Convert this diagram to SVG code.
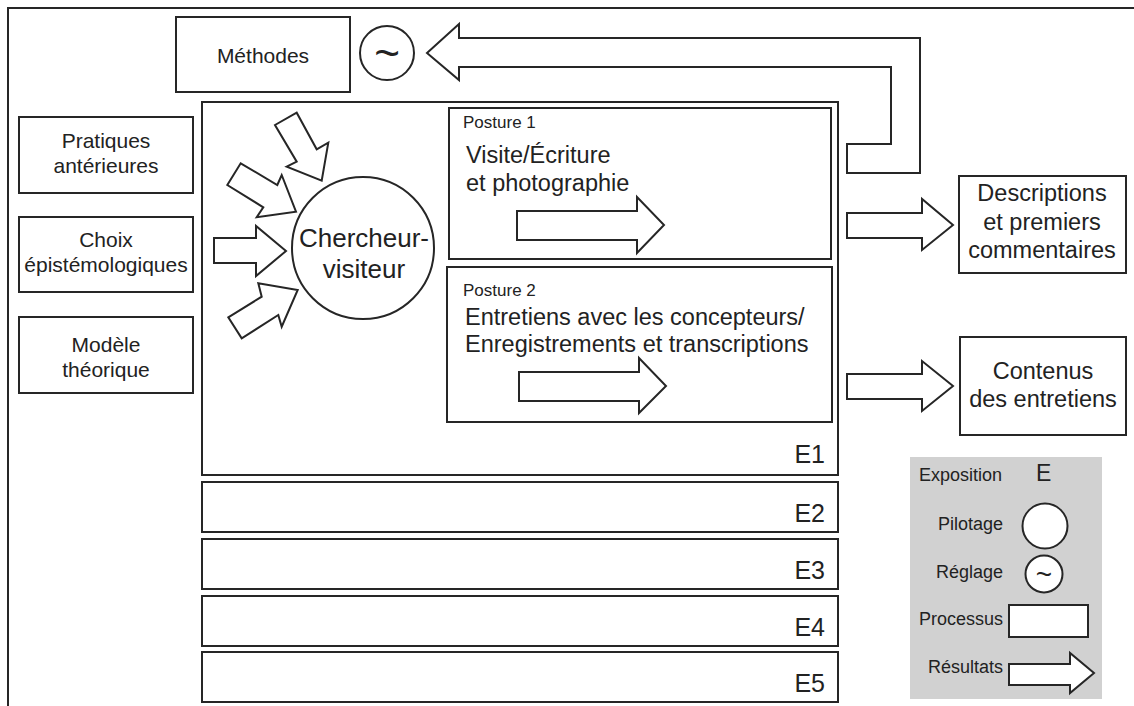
<svg xmlns="http://www.w3.org/2000/svg" width="1134" height="706" viewBox="0 0 1134 706">
<style>
.s{fill:#fff;stroke:#262626;stroke-width:2}
.n{fill:none;stroke:#262626;stroke-width:2}
.t{font-family:"Liberation Sans",Arial,sans-serif;fill:#222}
.m{text-anchor:middle}
.r{text-anchor:end}
</style>
<rect width="1134" height="706" fill="#fff"/>
<polyline class="n" points="8,706 8,8 1134,8"/>

<g id="methodes"><rect class="s" x="176" y="17" width="174" height="75"/><text class="t m" x="263" y="63" font-size="21">Méthodes</text></g>
<g id="reglage"><circle class="s" cx="387" cy="53" r="27"/><text class="t m" x="387" y="68" font-size="44">~</text></g>

<g id="pratiques"><rect class="s" x="19" y="117" width="174" height="76"/><text class="t m" x="106" y="148" font-size="21">Pratiques</text><text class="t m" x="106" y="173" font-size="21">antérieures</text></g>
<g id="choix"><rect class="s" x="19" y="217" width="174" height="75"/><text class="t m" x="106" y="247" font-size="21">Choix</text><text class="t m" x="106" y="272" font-size="21">épistémologiques</text></g>
<g id="modele"><rect class="s" x="19" y="317" width="174" height="76"/><text class="t m" x="106" y="352" font-size="21">Modèle</text><text class="t m" x="106" y="377" font-size="21">théorique</text></g>

<g id="E1"><rect class="s" x="202" y="102" width="636" height="373"/><text class="t r" x="825" y="463" font-size="25">E1</text></g>
<g id="E2"><rect class="s" x="202" y="482" width="636" height="50"/><text class="t r" x="825" y="522" font-size="25">E2</text></g>
<g id="E3"><rect class="s" x="202" y="539" width="636" height="50"/><text class="t r" x="825" y="579" font-size="25">E3</text></g>
<g id="E4"><rect class="s" x="202" y="596" width="636" height="50"/><text class="t r" x="825" y="636" font-size="25">E4</text></g>
<g id="E5"><rect class="s" x="202" y="652" width="636" height="50"/><text class="t r" x="825" y="692" font-size="25">E5</text></g>

<g id="chercheur"><circle class="s" cx="363" cy="248" r="71"/><text class="t m" x="364" y="247" font-size="26">Chercheur-</text><text class="t m" x="364" y="278" font-size="26">visiteur</text></g>

<g id="posture1"><rect class="s" x="449" y="108" width="382" height="151"/><text class="t" x="463" y="128" font-size="17">Posture 1</text><text class="t" x="466" y="163" font-size="23.5">Visite/Écriture</text><text class="t" x="466" y="191" font-size="23.5">et photographie</text></g>
<g id="posture2"><rect class="s" x="447" y="267" width="385" height="155"/><text class="t" x="463" y="296" font-size="17">Posture 2</text><text class="t" x="465" y="325" font-size="23.5">Entretiens avec les concepteurs/</text><text class="t" x="465" y="352" font-size="23.5">Enregistrements et transcriptions</text></g>

<g id="descriptions"><rect class="s" x="959" y="176" width="167" height="97"/><text class="t m" x="1042" y="201" font-size="23.5">Descriptions</text><text class="t m" x="1042" y="230" font-size="23.5">et premiers</text><text class="t m" x="1042" y="258" font-size="23.5">commentaires</text></g>
<g id="contenus"><rect class="s" x="960" y="337" width="166" height="98"/><text class="t m" x="1043" y="379" font-size="23.5">Contenus</text><text class="t m" x="1043" y="407" font-size="23.5">des entretiens</text></g>

<g id="connectors">
<polygon class="s" points="427,53 459,24 459,38 920,38 920,173 847,173 847,144 891,144 891,67 459,67 459,80"/>
<polygon class="s" points="275,125 296.7,112.7 316.7,149.3 328.3,142.7 321.7,180.7 286.7,166.7 296.7,161.7"/>
<polygon class="s" points="227.3,185 240.7,163.3 277.3,185 281.7,175 296,211.7 256.7,217.3 263.3,207.3"/>
<polygon class="s" points="214,238 256,238 256,226 286,251 256,276 256,263 214,263"/>
<polygon class="s" points="228.3,317.3 261.7,296.7 258.3,283.3 297.7,290 281.7,326.7 278.3,315 241.7,338.3"/>
<polygon class="s" points="517,211 637,211 637,197 664,225 637,253 637,240 517,240"/>
<polygon class="s" points="519,372 639,372 639,358 666,386 639,413 639,401 519,401"/>
<polygon class="s" points="847,213 922,213 922,199 953,225 922,250 922,238 847,238"/>
<polygon class="s" points="847,374 922,374 922,361 953,386 922,411 922,399 847,399"/>
</g>

<g id="legend">
<rect x="910" y="457" width="192" height="242" fill="#d1d1d1"/>
<text class="t" x="919" y="481" font-size="18">Exposition</text>
<text class="t" x="1036" y="481" font-size="23">E</text>
<text class="t r" x="1003" y="530" font-size="18">Pilotage</text>
<circle class="s" cx="1045" cy="526" r="22.5"/>
<text class="t r" x="1003" y="578" font-size="18">Réglage</text>
<circle class="s" cx="1044" cy="574" r="18.5"/>
<text class="t m" x="1044" y="584" font-size="28">~</text>
<text class="t r" x="1003" y="625" font-size="18">Processus</text>
<rect class="s" x="1009" y="605" width="79" height="32"/>
<text class="t r" x="1003" y="673" font-size="18">Résultats</text>
<polygon class="s" points="1009,664 1070,664 1070,653 1094,673 1070,693 1070,685 1009,685"/>
</g>
</svg>
